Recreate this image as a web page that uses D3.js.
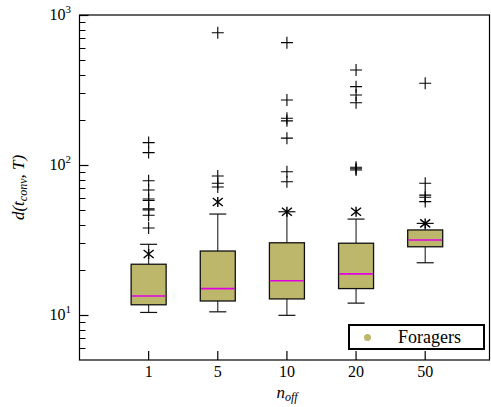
<!DOCTYPE html>
<html><head><meta charset="utf-8">
<script src="https://cdn.jsdelivr.net/npm/d3@7"></script>
</head><body style="margin:0">
<svg id="chart" width="491" height="407" font-family="Liberation Serif" style="font-family:'Liberation Serif'"></svg>
<script>
const categories = ["1", "5", "10", "20", "50"];
const q1Values     = [11.7, 12.4, 12.8, 15.0, 28.5];
const medianValues = [13.4, 15.0, 16.9, 18.8, 31.6];
const q3Values     = [21.8, 26.7, 30.3, 30.1, 36.9];
const whiskerLow   = [10.4, 10.5, 9.95, 12.0, 22.3];
const whiskerHigh  = [29.6, 47.1, 48.8, 43.6, 40.8];
const meanValues   = [25.5, 56.7, 48.8, 48.8, 40.8];
const outliers = [
  [141, 121, 78.6, 68.1, 59.3, 58, 51, 50.1, 46.2, 38.0],
  [762, 84.5, 75.5, 71.3],
  [654, 271, 205, 197, 151, 90.2, 77.4],
  [430, 333, 293, 260, 96.5, 94.5, 92.6],
  [351, 75.5, 63, 61, 57]
];
const majorTicks = [10, 100, 1000];
const majorLabels = ["1", "2", "3"];
const legendLabel = "Foragers";

const svg = d3.select("#chart");
const L = 79.5, R = 489.5, T = 15, B = 360;
const x = d3.scaleLinear().domain([0, 5.93]).range([L, R]);
const y = d3.scaleLog().domain([5.012, 1000]).range([B, T]);
const boxW = 35, capW = 17;
const fill = "#bdb76b", medColor = "#e000e0";
function txt(sel) { return sel.style("font-family", '"Liberation Serif"').attr("font-family", "Liberation Serif"); }

svg.append("rect").attr("x", 0).attr("y", 0).attr("width", 491).attr("height", 407).attr("fill", "#fff");
// frame
svg.append("rect").attr("x", L).attr("y", T).attr("width", R - L).attr("height", B - T)
  .attr("fill", "none").attr("stroke", "#000").attr("stroke-width", 1.2);

// y ticks
const minor = [];
[1, 10, 100].forEach(d => { for (let k = 2; k <= 9; k++) { const v = d * k; if (v >= 5.02 && v < 1000) minor.push(v); } });
svg.append("g").selectAll("line").data(minor).join("line")
  .attr("x1", L).attr("x2", L + 6).attr("y1", d => Math.round(y(d)) + 0.5).attr("y2", d => Math.round(y(d)) + 0.5)
  .attr("stroke", "#000").attr("stroke-width", 1);
svg.append("g").selectAll("line").data(majorTicks).join("line")
  .attr("x1", L).attr("x2", L + 9).attr("y1", d => Math.round(y(d)) + 0.5).attr("y2", d => Math.round(y(d)) + 0.5)
  .attr("stroke", "#000").attr("stroke-width", 1.2);
const yl = txt(svg.append("g").selectAll("text").data(majorTicks).join("text"))
  .attr("x", 71).attr("y", d => y(d) + 5).attr("text-anchor", "end")
  .attr("font-size", 16).attr("fill", "#000");
yl.append("tspan").text("10");
yl.append("tspan").attr("dy", -7).attr("font-size", 11).text((d, i) => majorLabels[i]);

// x ticks
const xi = categories.map((c, i) => i + 1);
svg.append("g").selectAll("line").data(xi).join("line")
  .attr("x1", d => x(d)).attr("x2", d => x(d)).attr("y1", B).attr("y2", B - 9)
  .attr("stroke", "#000").attr("stroke-width", 1.2);
txt(svg.append("g").selectAll("text").data(categories).join("text"))
  .attr("x", (d, i) => x(i + 1)).attr("y", 377).attr("text-anchor", "middle")
  .attr("font-size", 16).text(d => d);

// axis labels
const xlab = txt(svg.append("text")).attr("x", 287).attr("y", 398).attr("text-anchor", "middle")
  .attr("font-style", "italic").attr("font-size", 17);
xlab.append("tspan").text("n");
xlab.append("tspan").attr("dy", 3).attr("font-size", 12).text("off");

const ylab = txt(svg.append("text")).attr("transform", `translate(24,${(T + B) / 2}) rotate(-90)`)
  .attr("text-anchor", "middle").attr("font-style", "italic").attr("font-size", 17);
ylab.append("tspan").text("d(t");
ylab.append("tspan").attr("dy", 3).attr("font-size", 12).text("conv");
ylab.append("tspan").attr("dy", -3).text(", T)");

// boxes
const g = svg.append("g");
categories.forEach((c, i) => {
  const cx = x(i + 1);
  g.append("line").attr("x1", cx).attr("x2", cx).attr("y1", y(whiskerLow[i])).attr("y2", y(q1Values[i]))
    .attr("stroke", "#222").attr("stroke-width", 1.1);
  g.append("line").attr("x1", cx).attr("x2", cx).attr("y1", y(whiskerHigh[i])).attr("y2", y(q3Values[i]))
    .attr("stroke", "#222").attr("stroke-width", 1.1);
  [whiskerLow[i], whiskerHigh[i]].forEach(v => {
    g.append("line").attr("x1", cx - capW / 2).attr("x2", cx + capW / 2).attr("y1", y(v)).attr("y2", y(v))
      .attr("stroke", "#111").attr("stroke-width", 1.2);
  });
  g.append("rect").attr("x", cx - boxW / 2).attr("y", y(q3Values[i]))
    .attr("width", boxW).attr("height", y(q1Values[i]) - y(q3Values[i]))
    .attr("fill", fill).attr("stroke", "#111").attr("stroke-width", 1.3);
  g.append("line").attr("x1", cx - boxW / 2 + 0.7).attr("x2", cx + boxW / 2 - 0.7)
    .attr("y1", y(medianValues[i])).attr("y2", y(medianValues[i]))
    .attr("stroke", medColor).attr("stroke-width", 1.6);
  outliers[i].forEach(v => {
    const yy = y(v);
    g.append("path").attr("d", `M${cx - 6},${yy}H${cx + 6}M${cx},${yy - 6}V${yy + 6}`)
      .attr("stroke", "#000").attr("stroke-width", 1.1).attr("fill", "none");
  });
  const ym = y(meanValues[i]);
  g.append("path").attr("d", `M${cx - 5},${ym - 4}L${cx + 5},${ym + 4}M${cx - 5},${ym + 4}L${cx + 5},${ym - 4}M${cx},${ym - 5}V${ym + 5}`)
    .attr("stroke", "#000").attr("stroke-width", 1.4).attr("fill", "none");
});

// legend
const lg = svg.append("g");
lg.append("rect").attr("x", 349).attr("y", 325).attr("width", 135).attr("height", 24)
  .attr("fill", "#fff").attr("stroke", "#000").attr("stroke-width", 2);
lg.append("circle").attr("cx", 367.5).attr("cy", 337.5).attr("r", 3.5).attr("fill", fill);
txt(lg.append("text")).attr("x", 398).attr("y", 343).attr("font-size", 18).text(legendLabel);
</script>
</body></html>
